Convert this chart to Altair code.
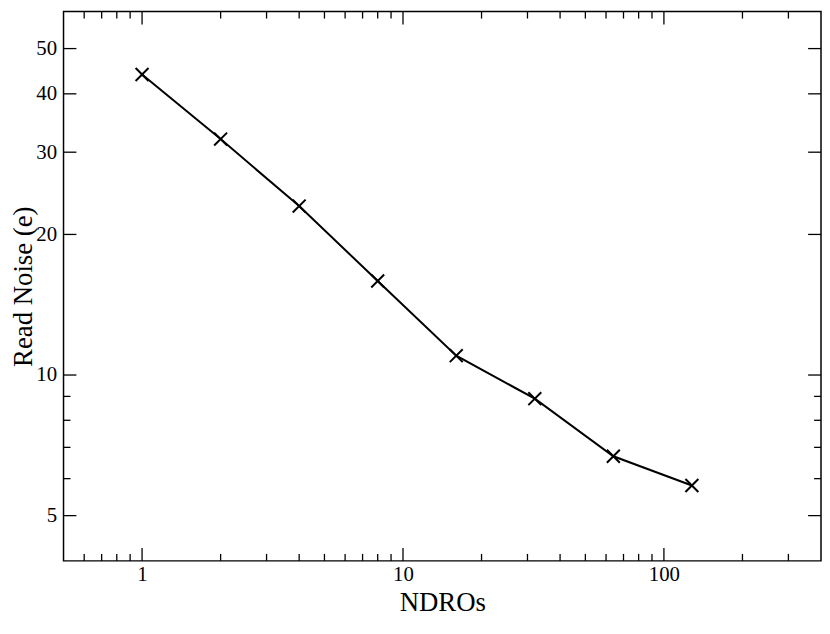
import altair as alt
import pandas as pd

# data
ndros = [1, 2, 4, 8, 16, 32, 64, 128]
read_noise = [44.0, 32.0, 23.0, 15.9, 11.0, 8.9, 6.7, 5.8]

x_major = [1, 10, 100]
x_minor = [0.6, 0.7, 0.8, 0.9, 2, 3, 4, 5, 6, 7, 8, 9,
           20, 30, 40, 50, 60, 70, 80, 90, 200, 300]
y_major = [5, 10, 20, 30, 40, 50]
y_minor = [6, 7, 8, 9]

W, H = 764, 554
MAJ, MIN = 13, 7
FONT = "Liberation Serif"

df = pd.DataFrame({"x": ndros, "y": read_noise})
xs = alt.Scale(type="log", domain=[0.5, 400], nice=False)
ys = alt.Scale(type="log", domain=[4, 60], nice=False)

x_axis = alt.Axis(title="NDROs", values=x_major, format="~g", ticks=False,
                  domain=False, grid=False, labelFont=FONT, labelFontSize=21,
                  labelColor="black", labelPadding=3, titleFont=FONT,
                  titleFontSize=27, titleFontWeight="normal", titleColor="black",
                  titleBaseline="alphabetic", titleY=50)
y_axis = alt.Axis(title="Read Noise (e)", values=y_major, format="~g", ticks=False,
                  domain=False, grid=False, labelFont=FONT, labelFontSize=21,
                  labelColor="black", labelPadding=7, titleFont=FONT,
                  titleFontSize=27, titleFontWeight="normal", titleColor="black",
                  titleBaseline="alphabetic", titleX=-32)


def X():
    return alt.X("x:Q", scale=xs, axis=x_axis, title="NDROs")


def Y():
    return alt.Y("y:Q", scale=ys, axis=y_axis, title="Read Noise (e)")


base = alt.Chart(df)
line = base.mark_line(color="black", strokeWidth=2).encode(x=X(), y=Y())
pts = base.mark_point(shape="M-1,-1L1,1M-1,1L1,-1", filled=False, color="black",
                      strokeWidth=2, size=170, opacity=1).encode(x=X(), y=Y())


def xticks(vals, length):
    d = alt.Chart(pd.DataFrame({"x": vals}))
    bot = d.mark_rule(color="black", strokeWidth=1.3).encode(
        x=X(), y=alt.value(H), y2=alt.value(H - length))
    top = d.mark_rule(color="black", strokeWidth=1.3).encode(
        x=X(), y=alt.value(0), y2=alt.value(length))
    return [bot, top]


def yticks(vals, length):
    d = alt.Chart(pd.DataFrame({"y": vals}))
    left = d.mark_rule(color="black", strokeWidth=1.3).encode(
        y=Y(), x=alt.value(0), x2=alt.value(length))
    right = d.mark_rule(color="black", strokeWidth=1.3).encode(
        y=Y(), x=alt.value(W - length), x2=alt.value(W))
    return [left, right]


layers = [line, pts] + xticks(x_major, MAJ) + xticks(x_minor, MIN) \
    + yticks(y_major, MAJ) + yticks(y_minor, MIN)

chart = alt.layer(*layers).properties(
    width=W, height=H,
    autosize=alt.AutoSizeParams(type="none"),
    padding={"left": 56, "top": 1, "right": 1, "bottom": 57},
).configure(background="white").configure_view(stroke="black", strokeWidth=1.5)

chart.save("out.html", embed_options={"renderer": "svg", "actions": False})
